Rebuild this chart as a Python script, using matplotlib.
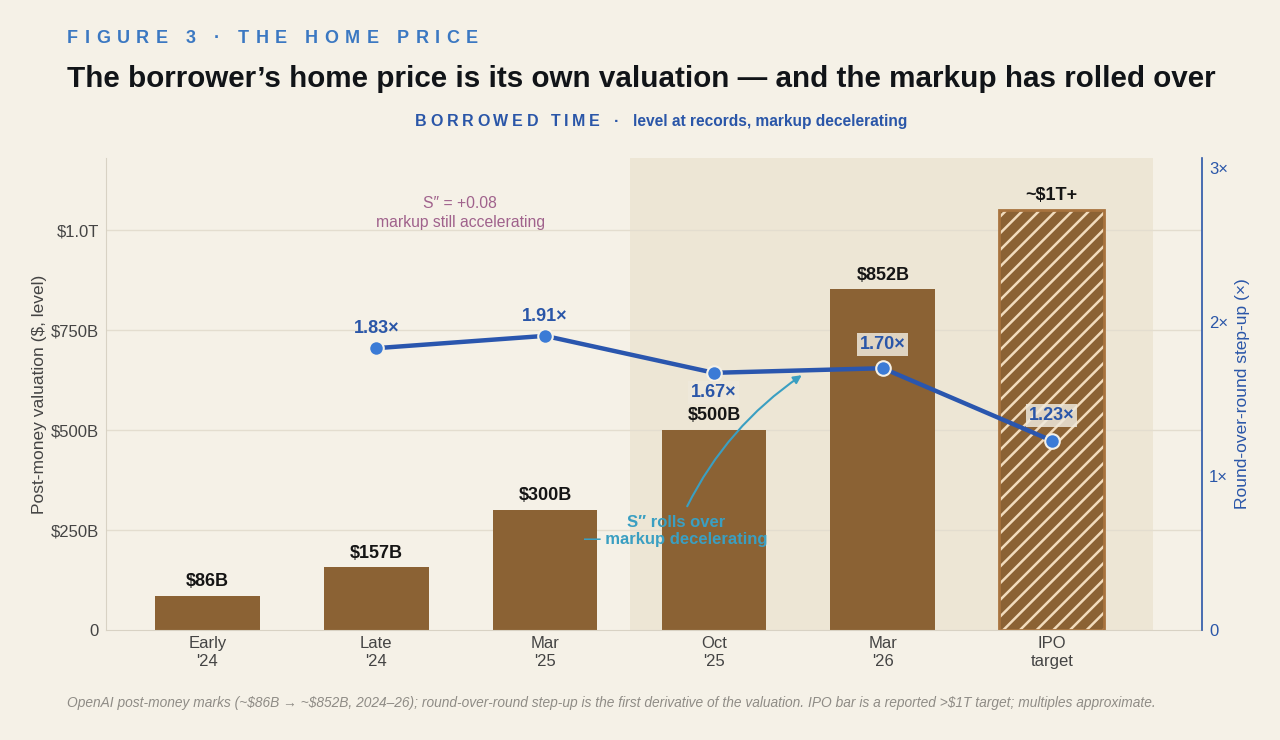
import matplotlib
matplotlib.use("Agg")
import matplotlib.pyplot as plt
import numpy as np

plt.rcParams['font.family'] = ['Liberation Sans', 'DejaVu Sans']

# ---- data ----
categories = ["Early\n'24", "Late\n'24", "Mar\n'25", "Oct\n'25", "Mar\n'26", "IPO\ntarget"]
valuations = [86, 157, 300, 500, 852, 1050]          # $B
val_labels = ["$86B", "$157B", "$300B", "$500B", "$852B", "~$1T+"]
step_idx = [1, 2, 3, 4, 5]
step_ups = [1.83, 1.91, 1.67, 1.70, 1.23]
step_labels = ["1.83×", "1.91×", "1.67×", "1.70×", "1.23×"]
left_ticks = [0, 250, 500, 750, 1000]
left_ticklabels = ["0", "$250B", "$500B", "$750B", "$1.0T"]
right_ticks = [0, 1, 2, 3]
right_ticklabels = ["0", "1×", "2×", "3×"]

BG = "#f5f1e7"
SHADE = "#ede6d5"
BROWN = "#8b6234"
BLUE = "#2a56ae"
MARK = "#3b7bd6"
TXT_BLUE = "#2a56a8"
HEAD_BLUE = "#3b78c2"
MAUVE = "#a0628c"
TEAL = "#3a9fc2"

W, H = 1280, 740
fig = plt.figure(figsize=(12.8, 7.4), dpi=100, facecolor=BG)
renderer = fig.canvas.get_renderer()


def tracked_text(x0, x1, y_base, s, **kw):
    """Draw s letter-spaced so it spans pixel x0..x1 with baseline at y_base (px from top)."""
    widths = []
    for ch in s:
        if ch == " ":
            t1 = fig.text(0, 0, "a a", **kw)
            t2 = fig.text(0, 0, "aa", **kw)
            w = t1.get_window_extent(renderer).width - t2.get_window_extent(renderer).width
            t1.remove(); t2.remove()
        else:
            t = fig.text(0, 0, ch, **kw)
            w = t.get_window_extent(renderer).width
            t.remove()
        widths.append(w)
    track = (x1 - x0 - sum(widths)) / (len(s) - 1)
    cur = x0
    for ch, w in zip(s, widths):
        if ch != " ":
            fig.text(cur / W, 1 - y_base / H, ch, ha="left", va="baseline", **kw)
        cur += w + track


ax = fig.add_axes([106/W, 110/H, (1202-106)/W, (630-158)/H])
ax.set_facecolor(BG)
x = np.arange(len(categories))

ax.set_xlim(-0.6, 5.89)
ax.set_ylim(0, 1180)
ax.axvspan(2.5, 5.6, color=SHADE, zorder=0, lw=0)

for t in left_ticks[1:]:
    ax.axhline(t, color="#e3ddcf", lw=1, zorder=0.5)

width = 0.62
ax.bar(x[:5], valuations[:5], width=width, color=BROWN, zorder=2, lw=0)
plt.rcParams['hatch.linewidth'] = 1.8
ax.bar(x[5], valuations[5], width=width, color=BROWN, edgecolor="#f2dcbd",
       hatch="//", lw=0, zorder=2)
ax.bar(x[5], valuations[5], width=width, facecolor="none", edgecolor="#a8733e",
       lw=2, zorder=2.1)

for xi, v, lab in zip(x, valuations, val_labels):
    ax.annotate(lab, (xi, v), xytext=(0, 4), textcoords="offset points",
                ha="center", va="bottom", fontsize=13, fontweight="bold",
                color="#151515", zorder=5)

ax.set_xticks(x)
ax.set_xticklabels(categories, fontsize=12, color="#444444", linespacing=1.3)
ax.set_yticks(left_ticks)
ax.set_yticklabels(left_ticklabels, fontsize=12, color="#444444")
ax.tick_params(axis="both", length=0, pad=5)
ax.tick_params(axis="x", pad=4)
for s in ["top", "right"]:
    ax.spines[s].set_visible(False)
ax.spines["left"].set_color("#d8d2c4")
ax.spines["bottom"].set_color("#d8d2c4")
ax.set_ylabel("Post-money valuation ($, level)", fontsize=12.5, color="#444444", labelpad=3)

ax2 = ax.twinx()
ax2.set_ylim(0, 3.065)
ax2.plot(step_idx, step_ups, color=BLUE, lw=3.2, zorder=3, solid_capstyle="round")
ax2.scatter(step_idx, step_ups, s=110, color=MARK, edgecolor="#f5f1e7", lw=1.5, zorder=4)
offsets = [(0, 8), (0, 8), (0, -8), (0, 11), (0, 12)]
boxes = [False, False, True, True, True]
for xi, v, lab, off, b in zip(step_idx, step_ups, step_labels, offsets, boxes):
    va = "bottom" if off[1] > 0 else "top"
    bbox = dict(boxstyle="square,pad=0.15", fc="#efe9dc", ec="none", alpha=0.85) if b else None
    ax2.annotate(lab, (xi, v), xytext=off, textcoords="offset points",
                 ha="center", va=va, fontsize=13, fontweight="bold",
                 color=TXT_BLUE, bbox=bbox, zorder=6)
ax2.set_yticks(right_ticks)
ax2.set_yticklabels(right_ticklabels, fontsize=12, color=TXT_BLUE)
ax2.tick_params(axis="y", length=0, pad=5)
for s in ["top", "left", "bottom"]:
    ax2.spines[s].set_visible(False)
ax2.spines["right"].set_color(TXT_BLUE)
ax2.spines["right"].set_linewidth(1.2)
ax2.set_ylabel("Round-over-round step-up (×)", fontsize=12.5, color=TXT_BLUE, labelpad=5)

# annotations
ax.text(1.497, 1043, "S″ = +0.08\nmarkup still accelerating", ha="center", va="center",
        fontsize=11.3, color=MAUVE, linespacing=1.3, zorder=6)
ax.annotate("S″ rolls over\n— markup decelerating", xy=(3.52, 637), xytext=(2.775, 247),
            ha="center", va="center", fontsize=12, fontweight="bold", color=TEAL,
            linespacing=1.15, zorder=6,
            arrowprops=dict(arrowstyle="-|>", color=TEAL, lw=1.5,
                            connectionstyle="arc3,rad=-0.15", shrinkA=5, shrinkB=0,
                            mutation_scale=12))

# header
tracked_text(67, 478, 43, "FIGURE 3 · THE HOME PRICE",
             fontsize=13, fontweight="bold", color=HEAD_BLUE)
fig.text(67/W, 1 - 79/H,
         "The borrower’s home price is its own valuation — and the markup has rolled over",
         fontsize=21.3, fontweight="bold", color="#111418", va="center", ha="left")
tracked_text(415, 600, 126, "BORROWED TIME",
             fontsize=11.5, fontweight="bold", color=TXT_BLUE)
fig.text(617/W, 1 - 126/H, "·", fontsize=11.5, fontweight="bold", color=TXT_BLUE,
         ha="center", va="baseline")
fig.text(633/W, 1 - 126/H, "level at records, markup decelerating",
         fontsize=11.2, fontweight="bold", color=TXT_BLUE, ha="left", va="baseline")
fig.text(67/W, 1 - 703/H,
         "OpenAI post-money marks (~$86B → ~$852B, 2024–26); round-over-round step-up is the first derivative of the valuation. IPO bar is a reported >$1T target; multiples approximate.",
         fontsize=9.9, style="italic", color="#8f8c86", va="center", ha="left")

fig.savefig("out.png", dpi=100, facecolor=BG)
